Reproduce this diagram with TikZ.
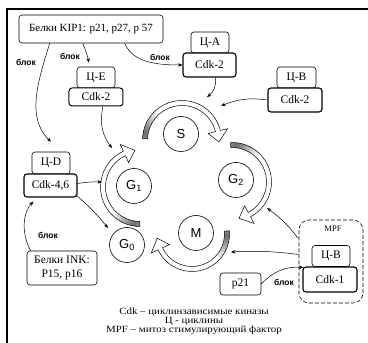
\documentclass[tikz,border=0pt]{standalone}
\usepackage{fontspec}
\setmainfont{Liberation Serif}
\setsansfont{Liberation Sans}
\usetikzlibrary{arrows.meta,calc}
\tikzset{
  lbox/.style={draw, rounded corners=3pt, fill=white, line width=0.6pt, inner sep=0pt,
    font=\fontsize{11.5}{12}\selectfont},
  cycl/.style={lbox, minimum width=38pt, minimum height=21pt},
  cdk/.style={lbox, line width=1.1pt, minimum width=54pt, minimum height=24pt},
  phase/.style={circle, draw, line width=0.6pt, minimum size=35pt, inner sep=0pt,
    font=\sffamily\fontsize{13}{13}\selectfont},
  blk/.style={font=\sffamily\bfseries\fontsize{8.5}{9}\selectfont},
  conn/.style={-{Stealth[length=4.5pt,width=3.5pt]}, line width=0.5pt},
}
\newcommand{\cycshape}[5]{%
  (#4:\ro) arc[start angle=#4, end angle=#5, radius=\ro] -- (#5:\ho) -- (\tipa:#3)
  -- (#5:\hi) -- (#5:\ri) arc[start angle=#5, end angle=#4, radius=\ri] -- cycle}
\newcommand{\cycarrow}[5]{%
  \begin{scope}[shift={(#1,#2)}]
    \pgfmathsetmacro{\ro}{#3+2.5}
    \pgfmathsetmacro{\ri}{#3-2.5}
    \pgfmathsetmacro{\ho}{#3+10}
    \pgfmathsetmacro{\hi}{#3-10}
    \pgfmathsetmacro{\tipa}{#5-11/#3*57.2958}
    \fill[white] \cycshape{#1}{#2}{#3}{#4}{#5};
    \foreach \k/\g in {0/50,1/56,2/52,3/45,4/38,5/30,6/22,7/14,8/7}{
      \pgfmathsetmacro{\sa}{#4-5*\k}
      \pgfmathsetmacro{\ea}{#4-5*\k-5.5}
      \fill[black!\g] (\sa:\ro) arc[start angle=\sa, end angle=\ea, radius=\ro]
        -- (\ea:\ri) arc[start angle=\ea, end angle=\sa, radius=\ri] -- cycle;
    }
    \draw[line width=0.5pt] \cycshape{#1}{#2}{#3}{#4}{#5};
  \end{scope}}
\begin{document}
\begin{tikzpicture}[x=1pt,y=1pt]
\useasboundingbox (0,0) rectangle (368,343);
\fill[white] (0,0) rectangle (368,343);
% frame
\draw[line width=2pt] (368,334) -- (7,334) -- (7,0);

% top boxes
\node[lbox, minimum width=144pt, minimum height=28pt, font=\fontsize{11}{12}\selectfont]
  (kip) at (91,314) {Белки KIP1: p21, p27, p 57};

\node[cycl] (nE) at (96,265.5) {Ц-E};
\node[cdk, minimum height=18pt, line width=1pt] (kE) at (96,246) {Cdk-2};

\node[cycl] (nA) at (210,300.5) {Ц-A};
\node[cdk, minimum width=53pt] (kA) at (209.5,278) {Cdk-2};

\node[cycl, minimum width=39pt] (nB) at (296.5,265.5) {Ц-B};
\node[cdk] (kB) at (295,243) {Cdk-2};

\node[cycl, minimum height=22pt] (nD) at (51,180) {Ц-D};
\node[cdk, minimum width=53pt, minimum height=23pt] (kD) at (50.5,157.5) {Cdk-4,6};

\node[lbox, minimum width=70pt, minimum height=34pt, align=center,
  font=\fontsize{11.5}{14}\selectfont] (ink) at (62,75) {Белки INK:\\P15, p16};

% MPF
\node[draw, dashed, dash pattern=on 4pt off 2pt, rounded corners=10pt, line width=0.6pt,
  minimum width=64pt, minimum height=83pt] (mpf) at (331,81.5) {};
\node[font=\fontsize{8.5}{9}\selectfont] (mpft) at (333,114) {MPF};
\node[cycl] (nM) at (331,87) {Ц-B};
\node[cdk, minimum height=25pt] (kM) at (330,63.5) {Cdk-1};

\node[lbox, minimum width=41pt, minimum height=22pt] (p21) at (240.5,59) {p21};

% phases
\node[phase] (S) at (181,209) {S};
\node[phase] (G1) at (134,157) {G\textsubscript{1}};
\node[phase] (G2) at (236,163) {G\textsubscript{2}};
\node[phase] (M) at (196,110) {M};
\node[phase] (G0) at (127,98) {G\textsubscript{0}};

% cycle arrows
\cycarrow{182}{203}{37}{178}{14}
\cycarrow{232}{161}{37}{92}{-62}
\cycarrow{192}{109}{35}{5}{-155}
\cycarrow{140}{156}{37}{270}{115}

% target coordinates
\coordinate (tA) at (207,246);
\coordinate (tB) at (221,237);
\coordinate (tE) at (112,195);
\coordinate (tD1) at (102,161);
\coordinate (tD2) at (108,115);
\coordinate (tM1) at (231,91);
\coordinate (tG2) at (267,135);

% block labels
\node[blk] (b1) at (26,281) {блок};
\node[blk] (b2) at (70,287) {блок};
\node[blk] (b3) at (160,286) {блок};
\node[blk] (b4) at (48,108) {блок};
\node[blk] (b5) at (284,61) {блок};

% connectors
\draw[conn] ($(kip.south west)+(64,0)$) to[bend left=5] ($(nE.north)+(-7,4)$);
\draw[conn] ($(kip.south west)+(31,0)$) .. controls (38,262) and (26,225) .. ($(nD.north)+(0,10)$);
\draw[conn] ($(kip.south west)+(106,0)$) .. controls (132,283) and (150,278) .. (kA.west);
\draw[conn] ($(kA.south)+(6,0)$) to[bend left=30] (tA);
\draw[conn] (kB.west) to[bend right=15] (tB);
\draw[conn] ($(kE.south)+(7,0)$) to[bend right=25] (tE);
\draw[conn] ($(kD.east)+(0,2)$) to[bend left=5] (tD1);
\draw[conn] ($(kD.south east)+(-2,3)$) to[bend left=5] (tD2);
\draw[conn] ($(ink.north west)+(4,0)$) .. controls (20,112) and (24,132) .. ($(kD.south)+(-17,-4)$);
\draw[conn] ($(mpf.west)+(0,7)$) to[bend right=5] (tM1);
\draw[conn] ($(mpf.north west)+(-1,-18)$) to[bend right=8] (tG2);
\draw[conn] (p21.east) to[bend left=25] ($(kM.north west)+(1,-1)$);

% legend
\node[align=center, font=\fontsize{9.5}{9}\selectfont, xscale=1.15, transform shape] (leg) at (194,22)
  {Cdk – циклинзависимые киназы\\Ц - циклины\\MPF – митоз стимулирующий фактор};
\end{tikzpicture}
\end{document}
